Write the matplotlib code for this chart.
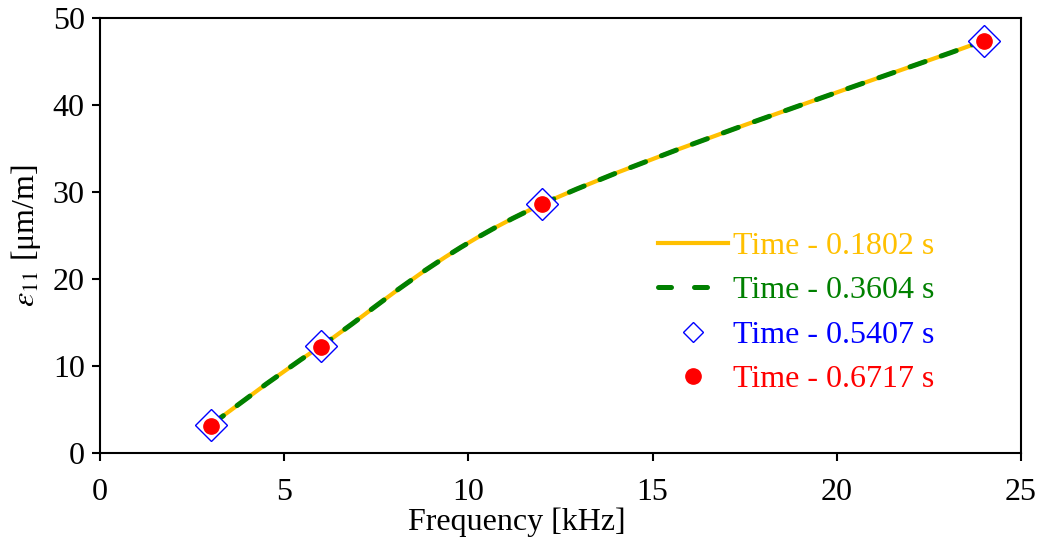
import numpy as np
import matplotlib
matplotlib.use("Agg")
import matplotlib.pyplot as plt
from matplotlib.path import Path
from matplotlib.patches import PathPatch
from matplotlib.lines import Line2D

plt.rcParams['font.family'] = ['Liberation Serif', 'DejaVu Serif']
plt.rcParams['mathtext.fontset'] = 'stix'

# frequency [kHz] and strain at each sampled time
freq = [3, 6, 12, 24]
strain_t1 = [3.2, 12.3, 28.6, 47.4]
strain_t2 = [3.2, 12.3, 28.6, 47.4]
strain_t3 = [3.2, 12.3, 28.6, 47.4]
strain_t4 = [3.1, 12.2, 28.6, 47.3]

labels = ['Time - 0.1802 s', 'Time - 0.3604 s', 'Time - 0.5407 s', 'Time - 0.6717 s']
colors = ['#FFC000', '#008000', '#0000FF', '#FF0000']


def smooth_path(x, y):
    # spreadsheet-style smoothed line: cubic Bezier through every point
    p = np.column_stack([x, y]).astype(float)
    n = len(p)
    verts = [p[0]]
    codes = [Path.MOVETO]
    for i in range(n - 1):
        p0 = p[i - 1] if i > 0 else p[i]
        p3 = p[i + 2] if i + 2 < n else p[i + 1]
        c1 = p[i] + (p[i + 1] - p0) / 6.0
        c2 = p[i + 1] - (p3 - p[i]) / 6.0
        verts += [c1, c2, p[i + 1]]
        codes += [Path.CURVE4] * 3
    return Path(verts, codes)


fig = plt.figure(figsize=(10.45, 5.38), dpi=100)
ax = fig.add_axes([100 / 1045, 85 / 538, 921 / 1045, 435 / 538])

ax.add_patch(PathPatch(smooth_path(freq, strain_t1), fill=False,
                       edgecolor=colors[0], lw=3.0, capstyle='round', zorder=2))
dashed = PathPatch(smooth_path(freq, strain_t2), fill=False,
                   edgecolor=colors[1], lw=3.6, capstyle='round', zorder=3)
dashed.set_linestyle((0, (3.2, 3.4)))
ax.add_patch(dashed)
ax.plot(freq, strain_t3, ls='none', marker='D', ms=16, mfc='white',
        mec=colors[2], mew=1.0, zorder=4)
ax.plot(freq, strain_t4, ls='none', marker='o', ms=11, color=colors[3], zorder=5)

ax.set_xlim(0, 25)
ax.set_ylim(0, 50)
ax.set_xticks(range(0, 26, 5))
ax.set_yticks(range(0, 51, 10))
for s in ax.spines.values():
    s.set_linewidth(1.5)
ax.tick_params(direction='out', length=6, width=1.5, labelsize=23)
ax.tick_params(axis='x', pad=12)
ax.tick_params(axis='y', pad=5)

ax.set_xlabel('Frequency [kHz]', fontsize=23, va='baseline')
ax.xaxis.set_label_coords(0.453, -0.177)
ax.set_ylabel(r'$\varepsilon_{11}$ [μm/m]', fontsize=23, labelpad=7)

handles = [
    Line2D([], [], color=colors[0], lw=3.0),
    Line2D([], [], color=colors[1], lw=3.6, ls=(0, (2.6, 4.6)), dash_capstyle='round'),
    Line2D([], [], ls='none', marker='D', ms=10, mfc='white', mec=colors[2], mew=1.0),
    Line2D([], [], ls='none', marker='o', ms=11, color=colors[3]),
]
leg = ax.legend(handles, labels, loc='center left', bbox_to_anchor=(0.588, 0.322),
                frameon=False, fontsize=23, handlelength=2.2, handletextpad=0.15,
                labelspacing=0.47, borderpad=0)
for txt, c in zip(leg.get_texts(), colors):
    txt.set_color(c)

fig.savefig('out.png', dpi=100)
